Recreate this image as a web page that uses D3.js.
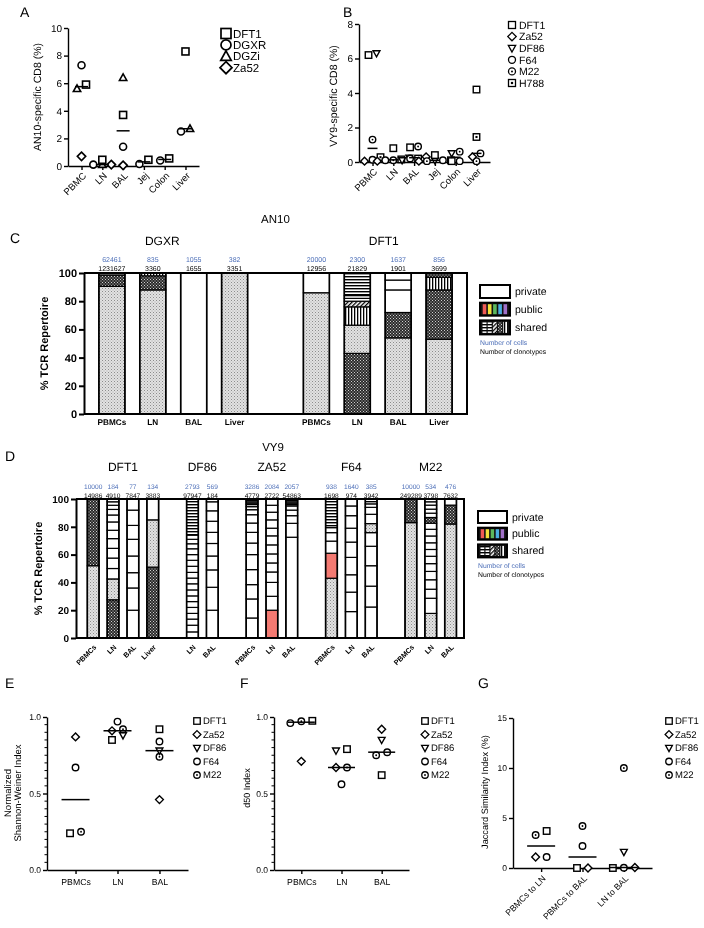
<!DOCTYPE html>
<html>
<head>
<meta charset="utf-8">
<script src="https://cdn.jsdelivr.net/npm/d3@7/dist/d3.min.js"></script>
<style>
html,body{margin:0;padding:0;background:#fff;}
svg{will-change:transform;}
svg text{font-family:"Liberation Sans",Arial,Helvetica,sans-serif;text-rendering:geometricPrecision;}
</style>
</head>
<body>
<svg id="fig" width="704" height="928" xmlns="http://www.w3.org/2000/svg"></svg>
<script>
// ================= DATA =================
// Panel A : AN10-specific CD8 (%)
const aTissues = ["PBMC","LN","BAL","Jej","Colon","Liver"];
const aAnimals = ["DFT1","DGXR","DGZi","Za52"];
const aDFT1 = [5.9, 0.45, 3.7, 0.45, 0.55, 8.3];
const aDGXR = [7.3, 0.1, 1.4, 0.15, 0.4, 2.5];
const aDGZi = [5.6, 0.1, 6.4, null, null, 2.7];
const aZa52 = [0.7, 0.1, 0.05, null, null, null];
const aTicks = [0, 2, 4, 6, 8, 10];

// Panel B : VY9-specific CD8 (%)
const bTissues = ["PBMC","LN","BAL","Jej","Colon","Liver"];
const bAnimals = ["DFT1","Za52","DF86","F64","M22","H788"];
const bDFT1 = [6.2, 0.8, 0.85, 0.4, 0.05, 4.2];
const bZa52 = [0.05, 0.05, 0.3, 0.05, null, 0.3];
const bDF86 = [6.3, 0.25, 0.1, 0.1, 0.5, null];
const bF64  = [0.13, 0.1, 0.2, 0.1, 0.05, 0.5];
const bM22  = [1.3, 0.1, 0.9, 0.05, 0.6, 0.05];
const bH788 = [0.28, 0.15, 0.2, 0.1, null, 1.45];
const bTicks = [0, 2, 4, 6, 8];

// segment helper: S(type, b0, b1, b2, ...) -> segments [b0,b1],[b1,b2]...
const S = (type, ...b) => b.slice(1).map((v, i) => [b[i], v, type]);

// Panel C : AN10 TCR repertoire
const cAnimals = ["DGXR","DGXR","DGXR","DGXR","DFT1","DFT1","DFT1","DFT1"];
const cTissues = ["PBMCs","LN","BAL","Liver","PBMCs","LN","BAL","Liver"];
const cCells = [62461, 835, 1055, 382, 20000, 2300, 1637, 856];
const cClonotypes = [1231627, 3360, 1655, 3351, 12956, 21829, 1901, 3699];
const cSegments = [
  [S("stip",0,90.5), S("check",90.5,98.5), S("hstr",98.5,100)],
  [S("stip",0,88), S("check",88,98), S("vstr",98,100)],
  [S("priv",0,100)],
  [S("stip",0,100)],
  [S("stip",0,86), S("priv",86,100)],
  [S("check",0,43), S("stip",43,63), S("vstr",63,76), S("hatch",76,80), S("priv",80,82,84), S("hstr",84,100)],
  [S("stip",0,54), S("check",54,72), S("priv",72,88,95,100)],
  [S("stip",0,53), S("check",53,88), S("vstr",88,97), S("check",97,100)]
];

// Panel D : VY9 TCR repertoire
const dAnimals = ["DFT1","DFT1","DFT1","DFT1","DF86","DF86","ZA52","ZA52","ZA52","F64","F64","F64","M22","M22","M22"];
const dTissues = ["PBMCs","LN","BAL","Liver","LN","BAL","PBMCs","LN","BAL","PBMCs","LN","BAL","PBMCs","LN","BAL"];
const dCells = [10000, 184, 77, 134, 2793, 569, 3286, 2084, 2057, 938, 1640, 385, 10000, 534, 476];
const dClonotypes = [14986, 4910, 7847, 3883, 97947, 184, 4779, 2722, 54863, 1698, 974, 3942, 249289, 3798, 7632];
const dSegments = [
  [S("stip",0,52), S("check",52,100)],
  [S("check",0,27.5), S("stip",27.5,42.5), S("priv",42.5,50,57.5,64.5,71.5,77.5,83.5,88.5,92.5,95.5,98,100)],
  [S("priv",0,20,36,47,59,71,81,92,100)],
  [S("check",0,51), S("stip",51,85), S("priv",85,100)],
  [S("priv",0,4.4,9.2,13.6,17.7,22,26.2,30.3,34.6,39,43.1,47.2,51.6,55.9,60,64.2,67.8,71,74), S("hstr",74,100)],
  [S("priv",0,20,36.5,49,59,68,76,84,91.5,98,100)],
  [S("priv",0,14.4,28.1,38.4,49.2,60,68.3,76,82.7,88.7,92.3,94.5,96,97,98,99,100)],
  [S("pub",0,20), S("priv",20,30,40,47.5,54,60.5,67,73.5,79,85,90.5,95.5,100)],
  [S("priv",0,72.5,82.5,88,92,95,96,97,98,99,100)],
  [S("stip",0,43), S("pub",43,61), S("priv",61,69.7,75.8,79.4), S("hstr",79.4,100)],
  [S("priv",0,19,33,45.5,58,69,79,88,95,100)],
  [S("priv",0,22.3,37.3,52,66,75.8), S("stip",75.8,82.3), S("priv",82.3,89,94,96.5), S("hstr",96.5,100)],
  [S("stip",0,83), S("check",83,100)],
  [S("stip",0,17.7), S("priv",17.7,28.6,35.1,41.9,47.9,53.5,58.8,63.7,68.5,73.4,78.2,82.6), S("check",82.6,86.7), S("priv",86.7,89.8,92.7,95.6,98,100)],
  [S("stip",0,82), S("check",82,95.6), S("priv",95.6,100)]
];
const stackTicks = [0, 20, 40, 60, 80, 100];

// Panels E, F, G
const efCats = ["PBMCs","LN","BAL"];
const efgAnimals = ["DFT1","Za52","DF86","F64","M22"];
const eDFT1 = [0.24, 0.85, 0.92];
const eZa52 = [0.87, 0.91, 0.46];
const eDF86 = [null, 0.88, 0.78];
const eF64  = [0.67, 0.97, 0.84];
const eM22  = [0.25, 0.92, 0.74];
const fDFT1 = [0.975, 0.79, 0.62];
const fZa52 = [0.71, 0.67, 0.92];
const fDF86 = [null, 0.78, 0.85];
const fF64  = [0.96, 0.56, 0.77];
const fM22  = [0.972, 0.67, 0.75];
const gCats = ["PBMCs to LN","PBMCs to BAL","LN to BAL"];
const gDFT1 = [3.7, 0, 0];
const gZa52 = [1.1, 0, 0.05];
const gDF86 = [null, null, 1.6];
const gF64  = [1.1, 2.2, 0.02];
const gM22  = [3.3, 4.2, 10];
const efTicks = [0, 0.5, 1.0];
const gTicks = [0, 5, 10, 15];

const shapeOf = {DFT1:"square", DGXR:"circle", DGZi:"triangle", Za52:"diamond", DF86:"tridown", F64:"circle", M22:"circledot", H788:"squaredot"};

// ================= DRAWING =================
const svg = d3.select("#fig");
const FONT = "Liberation Sans, Arial, Helvetica, sans-serif";
const BLUE = "#4d6fb8";
const defs = svg.append("defs");
function addPattern(id, size, items, bg, rot) {
  const p = defs.append("pattern").attr("id", id).attr("patternUnits", "userSpaceOnUse")
    .attr("width", size).attr("height", size);
  if (rot) p.attr("patternTransform", `rotate(${rot})`);
  p.append("rect").attr("width", size).attr("height", size).attr("fill", bg);
  items.forEach(([x, y, w, h, c]) => p.append("rect").attr("x", x).attr("y", y).attr("width", w).attr("height", h).attr("fill", c));
}
addPattern("stip", 3, [[0,0,1,1,"#8c8c8c"],[1.5,1.5,1,1,"#a8a8a8"]], "#e2e2e2");
addPattern("check", 3, [[0,0,1,1,"#d0d0d0"],[1.5,1.5,1,1,"#d0d0d0"]], "#2b2b2b");
addPattern("vstr", 3, [[0,0,1.3,3,"#000"]], "#fff");
addPattern("hstr", 3, [[0,0,3,1.4,"#000"]], "#fff");
addPattern("hatch", 3, [[0,0,1.3,3,"#000"]], "#fff", 45);
const FILL = {priv:"#ffffff", pub:"#f47a72", stip:"url(#stip)", check:"url(#check)", vstr:"url(#vstr)", hstr:"url(#hstr)", hatch:"url(#hatch)"};

function txt(g, x, y, s, fs, opt = {}) {
  const t = g.append("text").attr("x", x).attr("y", y).attr("font-size", fs).attr("font-family", FONT)
    .attr("fill", opt.fill || "#000").attr("text-anchor", opt.anchor || "start").text(s);
  if (opt.bold) t.attr("font-weight", "bold");
  if (opt.rot != null) t.attr("transform", `rotate(${opt.rot},${x},${y})`);
  if (opt.dy) t.attr("dy", opt.dy);
  return t;
}

function sym(g, shape, cx, cy, s, sw) {
  const h = s / 2;
  const st = el => el.attr("fill", "#fff").attr("stroke", "#000").attr("stroke-width", sw);
  if (shape === "square" || shape === "squaredot") {
    st(g.append("rect").attr("x", cx - h).attr("y", cy - h).attr("width", s).attr("height", s));
    if (shape === "squaredot") g.append("rect").attr("x", cx - s * 0.16).attr("y", cy - s * 0.16).attr("width", s * 0.32).attr("height", s * 0.32).attr("fill", "#000");
  } else if (shape === "circle" || shape === "circledot") {
    st(g.append("circle").attr("cx", cx).attr("cy", cy).attr("r", h));
    if (shape === "circledot") g.append("circle").attr("cx", cx).attr("cy", cy).attr("r", Math.max(0.8, s * 0.14)).attr("fill", "#000");
  } else if (shape === "triangle") {
    st(g.append("path").attr("d", `M${cx},${cy - h * 1.1}L${cx + h * 1.05},${cy + h * 0.8}L${cx - h * 1.05},${cy + h * 0.8}Z`));
  } else if (shape === "tridown") {
    st(g.append("path").attr("d", `M${cx},${cy + h * 1.1}L${cx + h * 1.05},${cy - h * 0.8}L${cx - h * 1.05},${cy - h * 0.8}Z`));
  } else if (shape === "diamond") {
    const r = h * 1.2;
    st(g.append("path").attr("d", `M${cx},${cy - r}L${cx + r},${cy}L${cx},${cy + r}L${cx - r},${cy}Z`));
  }
}

function styleAxis(g, fs, bold, sw) {
  g.attr("font-size", fs).attr("font-family", FONT).attr("font-weight", bold ? "bold" : "normal");
  g.select(".domain").attr("stroke-width", sw);
  g.selectAll(".tick line").attr("stroke-width", sw);
  g.selectAll(".tick text").attr("fill", "#000");
}

function scatter(o) {
  const g = svg.append("g");
  const x = d3.scalePoint().domain(o.cats).range([o.x0, o.x1]).padding(o.pad);
  const y = d3.scaleLinear().domain(o.yDom).range([o.yB, o.yT]);
  const ya = g.append("g").attr("transform", `translate(${o.x0},0)`)
    .call(d3.axisLeft(y).tickValues(o.ticks).tickFormat(o.fmt || d3.format("d")).tickSize(4).tickSizeOuter(0).tickPadding(2));
  styleAxis(ya, o.tickFs, false, 1.4);
  if (o.minor) {
    g.selectAll(null).data(o.minor).join("line")
      .attr("x1", o.x0 - 2.5).attr("x2", o.x0).attr("y1", d => y(d)).attr("y2", d => y(d))
      .attr("stroke", "#000").attr("stroke-width", 1);
  }
  const xa = g.append("g").attr("transform", `translate(0,${o.yB})`)
    .call(d3.axisBottom(x).tickSize(4).tickSizeOuter(0).tickPadding(5));
  styleAxis(xa, o.labFs, false, 1.4);
  if (o.rotate) {
    xa.selectAll(".tick text").remove();
    o.cats.forEach(c => txt(g, x(c) + o.rdx, o.yB + o.rdy, c, o.labFs, {anchor: "end", rot: -45, dy: "0.35em"}));
  }
  // points (rows of near-equal values spread sideways)
  o.cats.forEach((c, ci) => {
    const pts = o.series.map((vals, si) => ({v: vals[ci], shape: shapeOf[o.names[si]]})).filter(p => p.v != null);
    pts.sort((a, b) => a.v - b.v);
    const rows = [];
    pts.forEach(p => {
      const last = rows[rows.length - 1];
      if (last && Math.abs(y(p.v) - y(last[0].v)) <= o.bin) last.push(p); else rows.push([p]);
    });
    rows.forEach(r => r.forEach((p, i) => sym(g, p.shape, x(c) + (i - (r.length - 1) / 2) * o.step, y(p.v), o.size, o.sw)));
    const m = d3.median(pts, p => p.v);
    g.append("line").attr("x1", x(c) - o.lineLen / 2).attr("x2", x(c) + o.lineLen / 2)
      .attr("y1", y(m)).attr("y2", y(m)).attr("stroke", "#000").attr("stroke-width", 1.5);
  });
  // legend
  o.names.forEach((n, i) => {
    const ly = o.ly + i * o.ldy;
    sym(g, shapeOf[n], o.lx, ly, o.lsize, o.lsw);
    txt(g, o.lx + o.ltx, ly, n, o.lfs, {dy: "0.36em"});
  });
  // y title
  o.title.forEach((t, i) => txt(g, o.tx + i * o.tdx, o.ty, t, o.tfs, {anchor: "middle", rot: -90}));
}

function tcrLegend(lx, ly, w, h, dy, fs) {
  const g = svg.append("g");
  g.append("rect").attr("x", lx).attr("y", ly).attr("width", w).attr("height", h).attr("fill", "#fff").attr("stroke", "#000").attr("stroke-width", 2);
  txt(g, lx + w + 5, ly + h / 2, "private", fs, {dy: "0.36em"});
  const y2 = ly + dy;
  g.append("rect").attr("x", lx).attr("y", y2).attr("width", w).attr("height", h).attr("fill", "#111").attr("stroke", "#000").attr("stroke-width", 2);
  const cols = ["#ef5a55", "#f3e13a", "#5cb85c", "#4aaee0", "#a070c8"];
  const sw = (w - 4) / 5;
  cols.forEach((c, i) => g.append("rect").attr("x", lx + 2 + i * sw + 0.7).attr("y", y2 + 1.5).attr("width", sw - 1.6).attr("height", h - 3).attr("fill", c));
  txt(g, lx + w + 5, y2 + h / 2, "public", fs, {dy: "0.36em"});
  const y3 = ly + 2 * dy;
  g.append("rect").attr("x", lx).attr("y", y3).attr("width", w).attr("height", h + 1).attr("fill", "#111").attr("stroke", "#000").attr("stroke-width", 2);
  const pats = ["hstr", "hstr", "hatch", "check", "vstr"];
  pats.forEach((p, i) => g.append("rect").attr("x", lx + 2 + i * sw + 0.5).attr("y", y3 + 1.5).attr("width", sw - 1.2).attr("height", h - 2).attr("fill", FILL[p]));
  txt(g, lx + w + 5, y3 + h / 2, "shared", fs, {dy: "0.36em"});
  txt(g, lx, y3 + h + 12, "Number of cells", 6.8, {fill: BLUE});
  txt(g, lx, y3 + h + 21, "Number of clonotypes", 6.8);
}

function stacked(o) {
  const g = svg.append("g");
  const keys = [];
  o.animals.forEach((a, i) => { if (i > 0 && a !== o.animals[i - 1]) keys.push("gap" + i); keys.push("b" + i); });
  const x = d3.scaleBand().domain(keys).range([o.x0, o.x1]).paddingInner(o.pi).paddingOuter(o.po).align(o.align);
  const y = d3.scaleLinear().domain([0, 100]).range([o.yB, o.yT]);
  const bw = x.bandwidth();
  o.segs.forEach((segList, i) => {
    const bx = x("b" + i);
    segList.flat().forEach(([a, b, t]) => {
      g.append("rect").attr("x", bx).attr("y", y(b)).attr("width", bw).attr("height", y(a) - y(b))
        .attr("fill", FILL[t]).attr("stroke", "#000").attr("stroke-width", 1.2);
    });
    g.append("rect").attr("x", bx).attr("y", y(100)).attr("width", bw).attr("height", y(0) - y(100))
      .attr("fill", "none").attr("stroke", "#000").attr("stroke-width", 1.6);
    const cx = bx + bw / 2;
    txt(g, cx, o.cellY, o.cells[i], o.numFs, {anchor: "middle", fill: BLUE});
    txt(g, cx, o.clonY, o.clon[i], o.numFs, {anchor: "middle"});
    if (o.rotate) txt(g, cx + o.rdx, o.yB + o.rdy, o.tissues[i], o.labFs, {anchor: "end", rot: -45, bold: true, dy: "0.35em"});
    else txt(g, cx, o.labY, o.tissues[i], o.labFs, {anchor: "middle", bold: true});
  });
  // frame + axis
  const ya = g.append("g").attr("transform", `translate(${o.x0},0)`)
    .call(d3.axisLeft(y).tickValues(stackTicks).tickSize(5).tickSizeOuter(0).tickPadding(2));
  styleAxis(ya, o.tickFs, true, 2);
  g.append("path").attr("d", `M${o.x0},${o.yB}H${o.x1}V${o.yT}H${o.x0}`).attr("fill", "none").attr("stroke", "#000").attr("stroke-width", 2);
  // group titles
  const groups = [...new Set(o.animals)];
  groups.forEach((a, gi) => {
    const cs = o.animals.map((v, i) => v === a ? x("b" + i) + bw / 2 : null).filter(v => v != null);
    txt(g, d3.mean(cs) + (o.titleShift ? o.titleShift[gi] : 0), o.titleY, a, o.titleFs, {anchor: "middle"});
  });
  txt(g, (o.x0 + o.x1) / 2 + (o.headShift || 0), o.headY, o.head, o.headFs, {anchor: "middle"});
  txt(g, o.ytx, (o.yT + o.yB) / 2, "% TCR Repertoire", 11, {anchor: "middle", rot: -90, bold: true});
}

// panel letters
[["A",20,17],["B",343,17],["C",10,243],["D",5,461],["E",5,688],["F",240,688],["G",478,688]]
  .forEach(([l, x, yy]) => txt(svg, x, yy, l, 14));

// ---- Panel A
scatter({cats: aTissues, names: aAnimals, series: [aDFT1, aDGXR, aDGZi, aZa52],
  x0: 68, x1: 199, yT: 28, yB: 166, yDom: [0, 10], ticks: aTicks, tickFs: 10, pad: 0.65,
  size: 7, sw: 1.6, step: 9, bin: 4.5, lineLen: 13, labFs: 9.5, rotate: true, rdx: 3, rdy: 8,
  lx: 226, ly: 33.5, ldy: 11.4, lsize: 10, lsw: 1.7, ltx: 7, lfs: 11.5,
  title: ["AN10-specific CD8 (%)"], tx: 41, tdx: 0, ty: 97, tfs: 10.5});

// ---- Panel B
scatter({cats: bTissues, names: bAnimals, series: [bDFT1, bZa52, bDF86, bF64, bM22, bH788],
  x0: 359, x1: 490, yT: 24, yB: 162, yDom: [0, 8], ticks: bTicks, tickFs: 10, pad: 0.65,
  size: 6.5, sw: 1.4, step: 8, bin: 4, lineLen: 10, labFs: 9.5, rotate: true, rdx: 3, rdy: 8,
  lx: 512, ly: 25, ldy: 11.6, lsize: 7, lsw: 1.3, ltx: 7, lfs: 10.5,
  title: ["VY9-specific CD8 (%)"], tx: 337, tdx: 0, ty: 96, tfs: 10.5});

// ---- Panel C
stacked({animals: cAnimals, tissues: cTissues, cells: cCells, clon: cClonotypes, segs: cSegments,
  x0: 84, x1: 467, yT: 273, yB: 414, pi: 0.364, po: 0.364, align: 0.5,
  cellY: 262, clonY: 271, numFs: 7, labY: 425, labFs: 8.2, rotate: false, tickFs: 11,
  titleY: 244.5, titleFs: 12, titleShift: [-11, 6], head: "AN10", headY: 223, headFs: 11.5, ytx: 48});
tcrLegend(480, 285, 30, 13, 17.7, 10.5);

// ---- Panel D
stacked({animals: dAnimals, tissues: dTissues, cells: dCells, clon: dClonotypes, segs: dSegments,
  x0: 76, x1: 464, yT: 499, yB: 638, pi: 0.41, po: 0.475, align: 0.6,
  cellY: 489, clonY: 497.5, numFs: 6.6, labFs: 7.2, rotate: true, rdx: 2, rdy: 8, tickFs: 10,
  titleY: 471, titleFs: 12, head: "VY9", headY: 451, headFs: 11.5, headShift: 3, ytx: 42});
tcrLegend(478, 511, 29, 12, 16.7, 10.5);

// ---- Panel E
const efMinor = d3.range(1, 20).map(i => i * 0.05).filter(v => Math.abs(v - 0.5) > 1e-6);
scatter({cats: efCats, names: efgAnimals, series: [eDFT1, eZa52, eDF86, eF64, eM22],
  x0: 47, x1: 188, yT: 717, yB: 870, yDom: [0, 1], ticks: efTicks, fmt: d3.format(".1f"), minor: efMinor,
  tickFs: 8.5, pad: 0.68, size: 6.5, sw: 1.4, step: 11, bin: 5.5, lineLen: 28, labFs: 8.7, rotate: false,
  lx: 197, ly: 721, ldy: 13.5, lsize: 6.5, lsw: 1.3, ltx: 6, lfs: 9.5,
  title: ["Normalized", "Shannon-Weiner Index"], tx: 11, tdx: 10, ty: 793, tfs: 9.5});

// ---- Panel F
scatter({cats: efCats, names: efgAnimals, series: [fDFT1, fZa52, fDF86, fF64, fM22],
  x0: 274, x1: 409, yT: 717, yB: 870, yDom: [0, 1], ticks: efTicks, fmt: d3.format(".1f"), minor: efMinor,
  tickFs: 8.5, pad: 0.68, size: 6.5, sw: 1.4, step: 11, bin: 5.5, lineLen: 27, labFs: 8.7, rotate: false,
  lx: 425, ly: 721, ldy: 13.5, lsize: 6.5, lsw: 1.3, ltx: 6, lfs: 9.5,
  title: ["d50 Index"], tx: 250, tdx: 0, ty: 788, tfs: 9});

// ---- Panel G
scatter({cats: gCats, names: efgAnimals, series: [gDFT1, gZa52, gDF86, gF64, gM22],
  x0: 513, x1: 652, yT: 718, yB: 868, yDom: [0, 15], ticks: gTicks,
  tickFs: 8.5, pad: 0.68, size: 6.5, sw: 1.4, step: 11, bin: 5.5, lineLen: 28, labFs: 8.7, rotate: true, rdx: 3, rdy: 9,
  lx: 669, ly: 721, ldy: 13.5, lsize: 6.5, lsw: 1.3, ltx: 6, lfs: 9.5,
  title: ["Jaccard Similarity Index (%)"], tx: 488, tdx: 0, ty: 792, tfs: 9.2});
</script>
</body>
</html>
